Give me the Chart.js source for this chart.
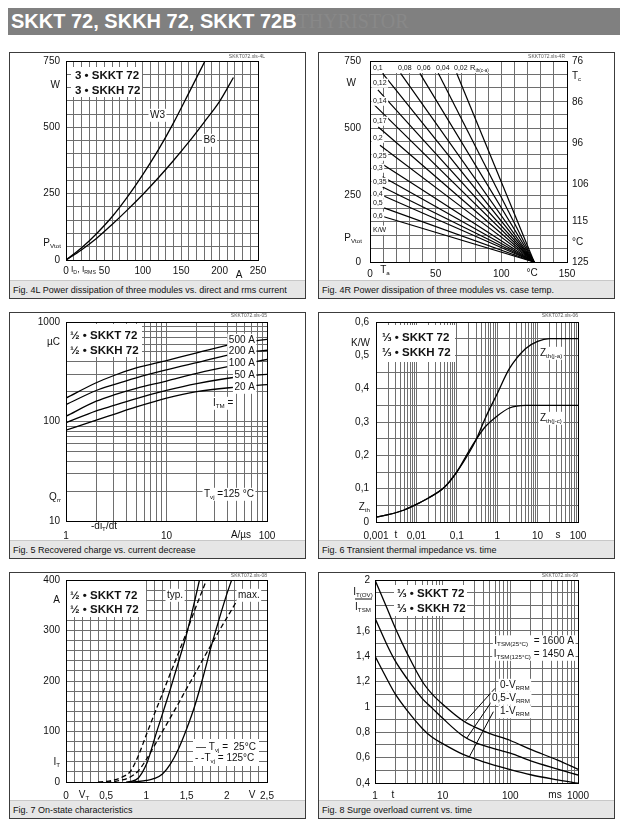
<!DOCTYPE html>
<html><head><meta charset="utf-8">
<script src="https://cdn.jsdelivr.net/npm/chart.js@4.4.1/dist/chart.umd.min.js"></script>
<style>
html,body{margin:0;padding:0;background:#fff}
body{width:623px;height:830px;position:relative;overflow:hidden;font-family:"Liberation Sans",Arial,Helvetica,sans-serif}
#title{position:absolute;left:8px;top:8px;width:612px;height:27px;background:#808080;white-space:nowrap}
#title .a{position:absolute;left:3px;top:1px;font-weight:bold;font-size:20px;line-height:25px;color:#fff}
#title .b{font-family:"Liberation Serif","Times New Roman",serif;font-weight:normal;color:#888888;font-size:20px}
.panel{position:absolute;width:297px;height:247px;box-sizing:border-box;border:1px solid #3c3c3c;background:#fff}
.panel canvas{position:absolute;left:0;top:0}
.cap{position:absolute;left:0;right:0;bottom:0;height:18px;background:#e6e6e6;font-size:9px;line-height:18px;padding-left:3px;color:#111;white-space:nowrap;border-top:1px solid #c8c8c8;box-sizing:border-box}
</style></head><body>
<div id="title"><span class="a">SKKT 72, SKKH 72, SKKT 72B<span class="b">THYRISTOR</span></span></div>
<div class="panel" style="left:9px;top:52px"><canvas id="c1" width="295" height="227"></canvas><div class="cap">Fig. 4L Power dissipation of three modules vs. direct and rms current</div></div>
<div class="panel" style="left:318px;top:52px"><canvas id="c2" width="295" height="227"></canvas><div class="cap">Fig. 4R Power dissipation of three modules vs. case temp.</div></div>
<div class="panel" style="left:9px;top:312px"><canvas id="c3" width="295" height="227"></canvas><div class="cap">Fig. 5 Recovered charge vs. current decrease</div></div>
<div class="panel" style="left:318px;top:312px"><canvas id="c4" width="295" height="227"></canvas><div class="cap">Fig. 6 Transient thermal impedance vs. time</div></div>
<div class="panel" style="left:9px;top:572px"><canvas id="c5" width="295" height="227"></canvas><div class="cap">Fig. 7 On-state characteristics</div></div>
<div class="panel" style="left:318px;top:572px"><canvas id="c6" width="295" height="227"></canvas><div class="cap">Fig. 8 Surge overload current vs. time</div></div>
<script>
// ---------------- DATA ----------------
// Fig. 4L  (x: I_D/I_RMS in A, y: P_Vtot in W)
const fig4L_I_W3 = [0, 20, 40, 60, 80, 100, 120, 140, 160, 181];
const fig4L_P_W3 = [0, 45, 100, 163, 238, 322, 414, 517, 630, 750];
const fig4L_I_B6 = [0, 20, 40, 60, 80, 100, 120, 140, 160, 180, 200, 218];
const fig4L_P_B6 = [0, 38, 82, 134, 189, 247, 309, 375, 445, 520, 598, 688];
const fig4L_xLabelVals = [0, 50, 100, 150, 200, 250];
const fig4L_xLabels = ['0', '50', '100', '150', '200', '250'];
const fig4L_yLabelVals = [0, 250, 500, 750];
const fig4L_yLabels = ['0', '250', '500', '750'];

// Fig. 4R  (x: T_a in °C, y: P_Vtot in W, right: T_c)
const fig4R_rth = ['0,02', '0,04', '0,06', '0,08', '0,1', '0,12', '0,14', '0,17', '0,2', '0,25', '0,3', '0,35', '0,4', '0,5', '0,6'];
const fig4R_startTa = [66, 52, 38, 23.3, 9.6, 6, 2.5, 6.3, 7.6, 8.9, 9.6, 9.6, 9.6, 9.6, 3];
const fig4R_startP = [704, 704, 704, 704, 704, 642, 590, 504, 436, 367, 318, 280, 248, 204, 180];
const fig4R_endTa = 125;
const fig4R_endP = 0;
const fig4R_xLabelVals = [0, 50, 100, 150];
const fig4R_xLabels = ['0', '50', '100', '150'];
const fig4R_yLabelVals = [0, 250, 500, 750];
const fig4R_yLabels = ['0', '250', '500', '750'];
const fig4R_tcVals = [76, 86, 96, 106, 115, 125];
const fig4R_tcLabels = ['76', '86', '96', '106', '115', '125'];

// Fig. 5  (x: -diT/dt A/µs, y: Qrr µC)
const fig5_didt = [1, 2, 3, 5, 10, 20, 50, 100];
const fig5_Q500 = [172, 245, 290, 345, 410, 490, 610, 668];
const fig5_Q200 = [148, 205, 235, 275, 330, 390, 485, 520];
const fig5_Q100 = [113, 160, 185, 215, 255, 305, 370, 420];
const fig5_Q50 = [97, 128, 145, 170, 205, 240, 280, 297];
const fig5_Q20 = [82, 103, 118, 140, 172, 200, 222, 235];
const fig5_xLabelVals = [1, 10, 100];
const fig5_xLabels = ['1', '10', '100'];
const fig5_yLabelVals = [10, 100, 1000];
const fig5_yLabels = ['10', '100', '1000'];

// Fig. 6  (x: t in s, y: Zth K/W)
const fig6_t = [0.001, 0.002, 0.005, 0.01, 0.02, 0.05, 0.1, 0.2, 0.3, 0.5, 1, 2, 5, 10, 20, 50, 100];
const fig6_Zjc = [0.015, 0.022, 0.036, 0.053, 0.072, 0.105, 0.15, 0.213, 0.247, 0.285, 0.318, 0.342, 0.35, 0.35, 0.35, 0.35, 0.35];
const fig6_Zja = [0.015, 0.022, 0.036, 0.053, 0.072, 0.105, 0.15, 0.207, 0.247, 0.31, 0.385, 0.46, 0.52, 0.542, 0.55, 0.55, 0.55];
const fig6_xLabelVals = [0.001, 0.01, 0.1, 1, 10, 100];
const fig6_xLabels = ['0,001', '0,01', '0,1', '1', '10', '100'];
const fig6_yLabelVals = [0, 0.1, 0.2, 0.3, 0.4, 0.5, 0.6];
const fig6_yLabels = ['0', '0,1', '0,2', '0,3', '0,4', '0,5', '0,6'];

// Fig. 7  (x: V_T in V, y: I_T in A)
const fig7_typ25_V = [0.75, 0.8, 0.9, 1.0, 1.05, 1.1, 1.2, 1.3, 1.4, 1.5, 1.6, 1.66];
const fig7_typ25_I = [0, 1, 8, 35, 58, 85, 135, 185, 238, 293, 358, 400];
const fig7_typ125_V = [0.4, 0.5, 0.6, 0.7, 0.8, 0.9, 1.0, 1.1, 1.2, 1.3, 1.4, 1.5, 1.6, 1.73];
const fig7_typ125_I = [0, 1, 4, 10, 21, 52, 94, 135, 175, 216, 256, 297, 340, 393];
const fig7_max25_V = [0.8, 0.9, 1.0, 1.1, 1.2, 1.3, 1.4, 1.5, 1.6, 1.7, 1.8, 1.9, 2.0, 2.06];
const fig7_max25_I = [0, 1, 3, 7, 16, 36, 66, 105, 150, 205, 265, 320, 372, 400];
const fig7_max125_V = [0.5, 0.6, 0.7, 0.8, 0.9, 1.0, 1.1, 1.2, 1.3, 1.4, 1.5, 1.6, 1.7, 1.8, 1.9, 2.0, 2.1, 2.17];
const fig7_max125_I = [0, 1, 4, 10, 22, 45, 72, 100, 128, 156, 185, 213, 242, 270, 298, 325, 352, 372];
const fig7_xLabelVals = [0, 0.5, 1, 1.5, 2, 2.5];
const fig7_xLabels = ['0', '0,5', '1', '1,5', '2', '2,5'];
const fig7_yLabelVals = [0, 100, 200, 300, 400];
const fig7_yLabels = ['0', '100', '200', '300', '400'];

// Fig. 8  (x: t in ms, y: I_T(OV)/I_TSM)
const fig8_t = [1, 1.5, 2, 3, 5, 7, 10, 20, 30, 50, 100, 200, 500, 1000];
const fig8_v0 = [2.0, 1.78, 1.62, 1.42, 1.2, 1.1, 1.02, 0.89, 0.84, 0.79, 0.735, 0.665, 0.58, 0.508];
const fig8_v05 = [1.7, 1.49, 1.36, 1.22, 1.065, 0.99, 0.91, 0.77, 0.72, 0.68, 0.635, 0.575, 0.51, 0.463];
const fig8_v1 = [1.4, 1.22, 1.1, 0.97, 0.83, 0.76, 0.71, 0.625, 0.59, 0.55, 0.505, 0.465, 0.425, 0.398];
const fig8_lead0_t = [21.4, 59.3], fig8_lead0_v = [0.883, 1.146];
const fig8_lead05_t = [22.6, 59.3], fig8_lead05_v = [0.752, 1.08];
const fig8_lead1_t = [24.8, 56.1], fig8_lead1_v = [0.607, 0.962];
const fig8_xLabelVals = [1, 10, 100, 1000];
const fig8_xLabels = ['1', '10', '100', '1000'];
const fig8_yLabelVals = [0.4, 0.6, 0.8, 1, 1.2, 1.4, 1.6, 2];
const fig8_yLabels = ['0,4', '0,6', '0,8', '1', '1,2', '1,4', '1,6', '2'];

// ---------------- HELPERS ----------------
const FONT = '"Liberation Sans", Arial, Helvetica, sans-serif';
const GRID = '#6e6e6e';
Chart.defaults.font.family = FONT;
Chart.defaults.font.size = 10;
Chart.defaults.color = '#111';

function range(a, b, step) { const o = []; const n = Math.round((b - a) / step); for (let i = 0; i <= n; i++) o.push(Math.round((a + i * step) * 1e6) / 1e6); return o; }
function logGrid(a, b) { const o = []; for (let e = Math.round(Math.log10(a)); e < Math.round(Math.log10(b)); e++) for (let d = 1; d < 10; d++) o.push(+(d * Math.pow(10, e)).toPrecision(6)); o.push(b); return o; }
function pts(xs, ys) { return xs.map((x, i) => ({x: x, y: ys[i]})); }
function labeler(vals, texts) { return v => { for (let i = 0; i < vals.length; i++) if (Math.abs(vals[i] - v) <= 1e-6 * Math.abs(vals[i]) + 1e-9) return texts[i]; return ''; }; }
function ds(data, dash, w) { return {data: data, showLine: true, borderColor: '#000', borderWidth: w || 1.3, pointRadius: 0, borderDash: dash || [], cubicInterpolationMode: 'monotone', fill: false}; }

function axis(o) {
  const horiz = o.pos === 'bottom';
  return {
    type: o.type || 'linear', position: o.pos, min: o.min, max: o.max, reverse: !!o.reverse,
    afterBuildTicks: s => { s.ticks = o.grid.map(v => ({value: v})); },
    afterFit: s => {
      if (horiz) s.height = o.size; else s.width = o.size;
      s.paddingTop = 0; s.paddingBottom = 0; s.paddingLeft = 0; s.paddingRight = 0;
    },
    ticks: {autoSkip: false, maxRotation: 0, minRotation: 0, padding: o.pad, color: '#111', font: {size: 10, family: FONT}, callback: labeler(o.lv, o.lt)},
    grid: {display: !o.noGrid, drawOnChartArea: !o.noGrid, color: GRID, lineWidth: 1, drawTicks: false},
    border: {display: true, color: '#000', width: 1}
  };
}

function drawItem(ctx, it, ox, oy) {
  if (it.rect) { ctx.fillStyle = '#fff'; ctx.fillRect(it.rect[0] - ox, it.rect[1] - oy, it.rect[2] - it.rect[0], it.rect[3] - it.rect[1]); return; }
  if (it.line) { ctx.strokeStyle = '#111'; ctx.lineWidth = 1; ctx.beginPath(); ctx.moveTo(it.line[0] - ox, it.line[1] - oy); ctx.lineTo(it.line[2] - ox, it.line[3] - oy); ctx.stroke(); return; }
  const size = it.s || 10; const bold = it.b ? 'bold ' : '';
  const parts = typeof it.t === 'string' ? [[it.t, 0]] : it.t;
  let w = 0; const ws = [];
  parts.forEach(p => { ctx.font = bold + (p[1] ? size * 0.62 : size) + 'px ' + FONT; const m = ctx.measureText(p[0]).width; ws.push(m); w += m; });
  let x = it.X - ox; const y = it.Y - oy;
  if (it.a === 'right') x -= w; else if (it.a === 'center') x -= w / 2;
  if (it.bg) { ctx.fillStyle = '#fff'; ctx.fillRect(x - 1.5, y - size * 0.62, w + 3, size * 1.3); }
  ctx.fillStyle = it.c || '#111'; ctx.textBaseline = 'middle'; ctx.textAlign = 'left';
  parts.forEach((p, i) => { ctx.font = bold + (p[1] ? size * 0.62 : size) + 'px ' + FONT; ctx.fillText(p[0], x, y + (p[1] ? size * 0.32 : 0)); x += ws[i]; });
}

const annot = {
  id: 'annot',
  afterDraw(chart, args, opts) {
    const ctx = chart.ctx; const a = chart.chartArea;
    ctx.save();
    ctx.strokeStyle = '#000'; ctx.lineWidth = 1;
    ctx.strokeRect(Math.round(a.left) + 0.5, Math.round(a.top) + 0.5, Math.round(a.right - a.left), Math.round(a.bottom - a.top));
    (opts.items || []).forEach(it => drawItem(ctx, it, opts.ox, opts.oy));
    ctx.restore();
  }
};

function mk(id, g, scales, datasets, items) {
  new Chart(document.getElementById(id), {
    type: 'scatter',
    data: {datasets: datasets},
    options: {
      responsive: false, animation: false, devicePixelRatio: 1,
      layout: {padding: {top: g.pT - g.cT, right: g.padR !== undefined ? g.padR : (g.cL + 295 - g.pR), left: 0, bottom: 0}},
      scales: scales,
      plugins: {legend: {display: false}, tooltip: {enabled: false}, annot: {items: items, ox: g.cL, oy: g.cT}}
    },
    plugins: [annot]
  });
}

// ---------------- CHART 1: Fig. 4L ----------------
(function () {
  const g = {cL: 10, cT: 53, pL: 66, pT: 61, pR: 258, pB: 260};
  mk('c1', g, {
    x: axis({pos: 'bottom', min: 0, max: 250, grid: range(0, 250, 10), lv: fig4L_xLabelVals, lt: fig4L_xLabels, size: g.cT + 227 - g.pB, pad: 5}),
    y: axis({pos: 'left', min: 0, max: 750, grid: range(0, 750, 50), lv: fig4L_yLabelVals, lt: fig4L_yLabels, size: g.pL - g.cL, pad: 6})
  }, [ds(pts(fig4L_I_W3, fig4L_P_W3)), ds(pts(fig4L_I_B6, fig4L_P_B6))], [
    {t: 'W', X: 60, Y: 85, a: 'right'},
    {t: [['P', 0], ['Vtot', 1]], X: 61, Y: 243, a: 'right'},
    {t: [['I', 0], ['D', 1], [', I', 0], ['RMS', 1]], X: 71, Y: 270, a: 'left', s: 8.5},
    {t: 'A', X: 239, Y: 275, a: 'center'},
    {rect: [71, 67, 142, 97]},
    {t: '3 • SKKT 72', X: 75, Y: 75.5, a: 'left', b: true, s: 11.5},
    {t: '3 • SKKH 72', X: 75, Y: 91, a: 'left', b: true, s: 11.5},
    {t: 'W3', X: 157.5, Y: 115, a: 'center', bg: true},
    {t: 'B6', X: 209.5, Y: 140, a: 'center', bg: true},
    {t: 'SKKT072.xls-4L', X: 265, Y: 57, a: 'right', s: 5, c: '#555'}
  ]);
})();

// ---------------- CHART 2: Fig. 4R ----------------
(function () {
  const g = {cL: 319, cT: 53, pL: 370, pT: 61, pR: 567, pB: 262, padR: 0};
  const sets = fig4R_rth.map((r, i) => ds(pts([fig4R_startTa[i], fig4R_endTa], [fig4R_startP[i], fig4R_endP]), [], 1.2));
  const lab = [];
  const leftY = {'0,12': 83, '0,14': 101, '0,17': 121, '0,2': 138, '0,25': 156, '0,3': 168, '0,35': 182, '0,4': 194, '0,5': 203.5, '0,6': 216};
  lab.push({rect: [371, 62, 492, 73]});
  lab.push({t: '0,1', X: 373, Y: 68, a: 'left', s: 7});
  lab.push({t: '0,08', X: 398, Y: 68, a: 'left', s: 7});
  lab.push({t: '0,06', X: 417, Y: 68, a: 'left', s: 7});
  lab.push({t: '0,04', X: 436, Y: 68, a: 'left', s: 7});
  lab.push({t: '0,02', X: 454, Y: 68, a: 'left', s: 7});
  lab.push({t: [['R', 0], ['th(c-a)', 1]], X: 470, Y: 68, a: 'left', s: 7.5});
  Object.keys(leftY).forEach(k => lab.push({t: k, X: 373, Y: leftY[k], a: 'left', s: 7, bg: true}));
  lab.push({t: 'K/W', X: 373, Y: 230, a: 'left', s: 7, bg: true});
  mk('c2', g, {
    x: axis({pos: 'bottom', min: 0, max: 150, grid: range(0, 150, 10), lv: fig4R_xLabelVals, lt: fig4R_xLabels, size: g.cT + 227 - g.pB, pad: 6}),
    y: axis({pos: 'left', min: 0, max: 750, grid: range(0, 750, 50), lv: fig4R_yLabelVals, lt: fig4R_yLabels, size: g.pL - g.cL, pad: 9}),
    y2: axis({pos: 'right', min: 76, max: 125, reverse: true, grid: fig4R_tcVals, lv: fig4R_tcVals, lt: fig4R_tcLabels, size: g.cL + 295 - g.pR, pad: 5, noGrid: true})
  }, sets, lab.concat([
    {t: 'W', X: 356, Y: 83, a: 'right'},
    {t: [['P', 0], ['Vtot', 1]], X: 362, Y: 238, a: 'right'},
    {t: [['T', 0], ['a', 1]], X: 385, Y: 270, a: 'center'},
    {t: '°C', X: 532, Y: 273, a: 'center'},
    {t: [['T', 0], ['c', 1]], X: 572, Y: 76, a: 'left'},
    {t: '°C', X: 572, Y: 242, a: 'left'},
    {t: 'SKKT072.xls-4R', X: 565, Y: 57, a: 'right', s: 5, c: '#555'}
  ]));
})();

// ---------------- CHART 3: Fig. 5 ----------------
(function () {
  const g = {cL: 10, cT: 313, pL: 66, pT: 322, pR: 267, pB: 521};
  mk('c3', g, {
    x: axis({type: 'logarithmic', pos: 'bottom', min: 1, max: 100, grid: logGrid(1, 100), lv: fig5_xLabelVals, lt: fig5_xLabels, size: g.cT + 227 - g.pB, pad: 9}),
    y: axis({type: 'logarithmic', pos: 'left', min: 10, max: 1000, grid: logGrid(10, 1000), lv: fig5_yLabelVals, lt: fig5_yLabels, size: g.pL - g.cL, pad: 6})
  }, [fig5_Q500, fig5_Q200, fig5_Q100, fig5_Q50, fig5_Q20].map(q => ds(pts(fig5_didt, q))), [
    {t: 'µC', X: 60, Y: 342, a: 'right'},
    {t: [['Q', 0], ['rr', 1]], X: 61, Y: 497, a: 'right'},
    {t: [['-di', 0], ['T', 1], ['/dt', 0]], X: 104, Y: 526, a: 'center'},
    {t: 'A/µs', X: 241, Y: 535, a: 'center'},
    {rect: [67, 324, 142, 357]},
    {t: '½ • SKKT 72', X: 70, Y: 336, a: 'left', b: true, s: 11.5},
    {t: '½ • SKKH 72', X: 70, Y: 351, a: 'left', b: true, s: 11.5},
    {t: '500 A', X: 255, Y: 340, a: 'right', bg: true},
    {t: '200 A', X: 255, Y: 351.5, a: 'right', bg: true},
    {t: '100 A', X: 255, Y: 363.5, a: 'right', bg: true},
    {t: '50 A', X: 255, Y: 375.5, a: 'right', bg: true},
    {t: '20 A', X: 255, Y: 387, a: 'right', bg: true},
    {t: [['I', 0], ['TM', 1], [' =', 0]], X: 213, Y: 403, a: 'left', bg: true},
    {t: [['T', 0], ['vj', 1], [' =125 °C', 0]], X: 204, Y: 494, a: 'left', bg: true},
    {t: 'SKKT072.xls-05', X: 267, Y: 316, a: 'right', s: 5, c: '#555'}
  ]);
})();

// ---------------- CHART 4: Fig. 6 ----------------
(function () {
  const g = {cL: 319, cT: 313, pL: 376, pT: 322, pR: 578, pB: 522};
  mk('c4', g, {
    x: axis({type: 'logarithmic', pos: 'bottom', min: 0.001, max: 100, grid: logGrid(0.001, 100), lv: fig6_xLabelVals, lt: fig6_xLabels, size: g.cT + 227 - g.pB, pad: 8}),
    y: axis({pos: 'left', min: 0, max: 0.6, grid: range(0, 0.6, 0.05), lv: fig6_yLabelVals, lt: fig6_yLabels, size: g.pL - g.cL, pad: 7})
  }, [ds(pts(fig6_t, fig6_Zja)), ds(pts(fig6_t, fig6_Zjc))], [
    {t: 'K/W', X: 370, Y: 343, a: 'right'},
    {t: [['Z', 0], ['th', 1]], X: 370, Y: 507, a: 'right'},
    {t: 't', X: 396, Y: 535, a: 'center'},
    {t: 's', X: 558, Y: 535, a: 'center'},
    {rect: [377, 325, 455, 362]},
    {t: '⅓ • SKKT 72', X: 382, Y: 338, a: 'left', b: true, s: 11.5},
    {t: '⅓ • SKKH 72', X: 382, Y: 353, a: 'left', b: true, s: 11.5},
    {t: [['Z', 0], ['th(j-a)', 1]], X: 540, Y: 353, a: 'left', bg: true},
    {t: [['Z', 0], ['th(j-c)', 1]], X: 540, Y: 418, a: 'left', bg: true},
    {t: 'SKKT072.xls-06', X: 578, Y: 316, a: 'right', s: 5, c: '#555'}
  ]);
})();

// ---------------- CHART 5: Fig. 7 ----------------
(function () {
  const g = {cL: 10, cT: 573, pL: 66, pT: 580, pR: 267, pB: 782};
  mk('c5', g, {
    x: axis({pos: 'bottom', min: 0, max: 2.5, grid: range(0, 2.5, 0.1), lv: fig7_xLabelVals, lt: fig7_xLabels, size: g.cT + 227 - g.pB, pad: 8}),
    y: axis({pos: 'left', min: 0, max: 400, grid: range(0, 400, 20), lv: fig7_yLabelVals, lt: fig7_yLabels, size: g.pL - g.cL, pad: 6})
  }, [
    ds(pts(fig7_typ25_V, fig7_typ25_I)),
    ds(pts(fig7_typ125_V, fig7_typ125_I), [5, 3]),
    ds(pts(fig7_max25_V, fig7_max25_I)),
    ds(pts(fig7_max125_V, fig7_max125_I), [5, 3])
  ], [
    {t: 'A', X: 60, Y: 600, a: 'right'},
    {t: [['I', 0], ['T', 1]], X: 60, Y: 762, a: 'right'},
    {t: [['V', 0], ['T', 1]], X: 84, Y: 795, a: 'center'},
    {t: 'V', X: 252, Y: 795, a: 'center'},
    {rect: [67, 581, 146, 617]},
    {t: '½ • SKKT 72', X: 70, Y: 596, a: 'left', b: true, s: 11.5},
    {t: '½ • SKKH 72', X: 70, Y: 610, a: 'left', b: true, s: 11.5},
    {t: 'typ.', X: 167, Y: 595, a: 'left', bg: true},
    {t: 'max.', X: 238, Y: 595, a: 'left', bg: true},
    {rect: [193, 739, 259, 766]},
    {t: [['— T', 0], ['vj', 1], [' =  25°C', 0]], X: 196, Y: 747, a: 'left'},
    {t: [['- -T', 0], ['vj', 1], [' = 125°C', 0]], X: 195, Y: 758.5, a: 'left'},
    {t: 'SKKT072.xls-08', X: 267, Y: 576, a: 'right', s: 5, c: '#555'}
  ]);
})();

// ---------------- CHART 6: Fig. 8 ----------------
(function () {
  const g = {cL: 319, cT: 573, pL: 375, pT: 580, pR: 578, pB: 783};
  mk('c6', g, {
    x: axis({type: 'logarithmic', pos: 'bottom', min: 1, max: 1000, grid: logGrid(1, 1000), lv: fig8_xLabelVals, lt: fig8_xLabels, size: g.cT + 227 - g.pB, pad: 7}),
    y: axis({pos: 'left', min: 0.4, max: 2, grid: range(0.4, 2, 0.1), lv: fig8_yLabelVals, lt: fig8_yLabels, size: g.pL - g.cL, pad: 5})
  }, [
    ds(pts(fig8_t, fig8_v0)), ds(pts(fig8_t, fig8_v05)), ds(pts(fig8_t, fig8_v1)),
    ds(pts(fig8_lead0_t, fig8_lead0_v), [], 1), ds(pts(fig8_lead05_t, fig8_lead05_v), [], 1), ds(pts(fig8_lead1_t, fig8_lead1_v), [], 1)
  ], [
    {t: [['I', 0], ['T(OV)', 1]], X: 363, Y: 592, a: 'center'},
    {line: [355, 599, 372, 599]},
    {t: [['I', 0], ['TSM', 1]], X: 363, Y: 607, a: 'center'},
    {t: 't', X: 393, Y: 795, a: 'center'},
    {t: 'ms', X: 555, Y: 795, a: 'center'},
    {rect: [394, 585, 467, 616]},
    {t: '⅓ • SKKT 72', X: 397, Y: 593.5, a: 'left', b: true, s: 11.5},
    {t: '⅓ • SKKH 72', X: 397, Y: 608.5, a: 'left', b: true, s: 11.5},
    {t: [['I', 0], ['TSM(25°C)', 1], ['  = 1600 A', 0]], X: 574, Y: 641.5, a: 'right', bg: true},
    {t: [['I', 0], ['TSM(125°C)', 1], [' = 1450 A', 0]], X: 574, Y: 654, a: 'right', bg: true},
    {t: [['0-V', 0], ['RRM', 1]], X: 500, Y: 685, a: 'left', bg: true},
    {t: [['0,5-V', 0], ['RRM', 1]], X: 492, Y: 698, a: 'left', bg: true},
    {t: [['1-V', 0], ['RRM', 1]], X: 500, Y: 711.5, a: 'left', bg: true},
    {t: 'SKKT072.xls-09', X: 578, Y: 576, a: 'right', s: 5, c: '#555'}
  ]);
})();
</script>
</body></html>
